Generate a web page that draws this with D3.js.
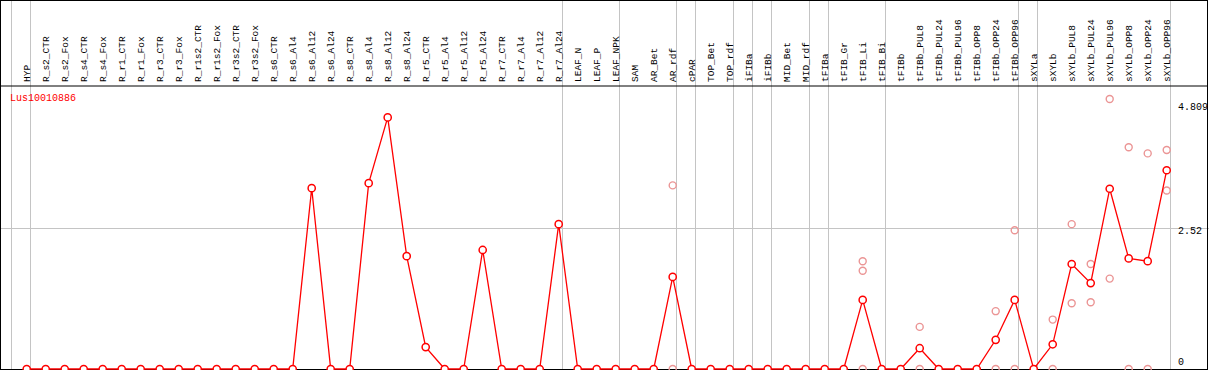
<!DOCTYPE html>
<html>
<head>
<meta charset="utf-8">
<script src="https://cdn.jsdelivr.net/npm/d3@7"></script>
<style>
  body { margin: 0; background: #fff; }
  text { font-family: "Liberation Mono", "DejaVu Sans Mono", monospace; font-size: 9.5px; }
</style>
</head>
<body>
<div id="chart"></div>
<script>
const W = 1209, H = 370;

const geneName = "Lus10010886";

const samples = [
  "HYP", "R_s2_CTR", "R_s2_Fox", "R_s4_CTR", "R_s4_Fox", "R_r1_CTR", "R_r1_Fox", "R_r3_CTR", "R_r3_Fox",
  "R_r1s2_CTR", "R_r1s2_Fox", "R_r3s2_CTR", "R_r3s2_Fox", "R_s6_CTR", "R_s6_Al4", "R_s6_Al12", "R_s6_Al24",
  "R_s8_CTR", "R_s8_Al4", "R_s8_Al12", "R_s8_Al24", "R_r5_CTR", "R_r5_Al4", "R_r5_Al12", "R_r5_Al24",
  "R_r7_CTR", "R_r7_Al4", "R_r7_Al12", "R_r7_Al24", "LEAF_N", "LEAF_P", "LEAF_NPK", "SAM", "AR_Bet", "AR_rdf",
  "cPAR", "TOP_Bet", "TOP_rdf", "iFIBa", "iFIBb", "MID_Bet", "MID_rdf", "tFIBa", "tFIB_Gr", "tFIB_Li", "tFIB_Bi",
  "tFIBb", "tFIBb_PUL8", "tFIBb_PUL24", "tFIBb_PUL96", "tFIBb_OPP8", "tFIBb_OPP24", "tFIBb_OPP96",
  "sXYLa", "sXYLb", "sXYLb_PUL8", "sXYLb_PUL24", "sXYLb_PUL96", "sXYLb_OPP8", "sXYLb_OPP24", "sXYLb_OPP96"
];

// mean expression per sample
const means = [
  0, 0, 0, 0, 0, 0, 0, 0, 0,
  0, 0, 0, 0, 0, 0, 3.22, 0,
  0, 3.31, 4.48, 2.01, 0.39, 0, 0, 2.12,
  0, 0, 0, 2.58, 0, 0, 0, 0, 0, 1.64,
  0, 0, 0, 0, 0, 0, 0, 0, 0, 1.23, 0,
  0, 0.37, 0, 0, 0, 0.52, 1.23,
  0, 0.44, 1.87, 1.53, 3.21, 1.97, 1.92, 3.54
];

// individual replicates (only where they show)
const replicates = [
  ["AR_rdf", [3.27, 0]],
  ["tFIB_Li", [1.92, 1.75, 0]],
  ["tFIBb_PUL8", [0.75, 0]],
  ["tFIBb_OPP24", [1.03, 0]],
  ["tFIBb_OPP96", [2.47, 0]],
  ["sXYLb", [0.88, 0]],
  ["sXYLb_PUL8", [2.58, 1.17]],
  ["sXYLb_PUL24", [1.87, 1.19]],
  ["sXYLb_PUL96", [4.809, 1.61]],
  ["sXYLb_OPP8", [3.95, 0]],
  ["sXYLb_OPP24", [3.84, 0]],
  ["sXYLb_OPP96", [3.90, 3.18]]
];

// first sample of each group (vertical separators)
const groupStarts = ["HYP", "R_s2_CTR", "LEAF_N", "SAM", "cPAR", "TOP_Bet", "iFIBa", "iFIBb", "MID_Bet",
  "tFIBa", "tFIB_Gr", "tFIBb", "sXYLa", "sXYLb"];

const maxValue = 4.809;
const yTicks = [4.809, 2.52, 0];

const labelBottom = 86;
const plotBottom = 369;

const x = d3.scaleBand()
  .domain(samples)
  .range([10.8, 10.8 + 19 * samples.length]);
const px = s => x(s) + 15.9;

const y = d3.scaleLinear()
  .domain([0, 5.04])
  .range([plotBottom, labelBottom]);

const svg = d3.select("#chart").append("svg")
  .attr("width", W)
  .attr("height", H);

const grid = "#c4c4c4";

// group separators
const seps = groupStarts.map(s => x(s)).concat([x.range()[1]]);
svg.selectAll(".sep")
  .data(seps)
  .enter().append("line")
  .attr("x1", d => Math.round(d) + 0.5)
  .attr("x2", d => Math.round(d) + 0.5)
  .attr("y1", 0)
  .attr("y2", H)
  .attr("stroke", grid);

// mid gridline
svg.append("line")
  .attr("x1", 0).attr("x2", W)
  .attr("y1", Math.round(y(2.52)) + 0.5)
  .attr("y2", Math.round(y(2.52)) + 0.5)
  .attr("stroke", grid);

// frame
svg.append("rect")
  .attr("x", 0.5).attr("y", 0.5)
  .attr("width", 1207).attr("height", labelBottom - 0.5)
  .attr("fill", "none").attr("stroke", "#000");
svg.append("line")
  .attr("x1", 0.5).attr("x2", 0.5).attr("y1", 0).attr("y2", plotBottom)
  .attr("stroke", "#000");
svg.append("line")
  .attr("x1", 1207.5).attr("x2", 1207.5).attr("y1", 0).attr("y2", plotBottom)
  .attr("stroke", "#000");
svg.append("line")
  .attr("x1", 0).attr("x2", 1208).attr("y1", plotBottom + 0.5).attr("y2", plotBottom + 0.5)
  .attr("stroke", "#000");

// sample labels
svg.selectAll(".lab")
  .data(samples)
  .enter().append("text")
  .attr("transform", d => `translate(${px(d) + 3.5},82) rotate(-90)`)
  .attr("fill", "#000")
  .text(d => d);

// gene name
svg.append("text")
  .attr("x", 10).attr("y", 101)
  .attr("fill", "#ff0000")
  .style("font-size", "10px")
  .text(geneName);

// y labels
const yOffset = { "4.809": 11, "2.52": 6, "0": -4 };
svg.selectAll(".ylab")
  .data(yTicks)
  .enter().append("text")
  .attr("x", 1178)
  .attr("y", d => y(d) + yOffset[String(d)])
  .attr("fill", "#000")
  .style("font-size", "10px")
  .text(d => String(d));

// replicate points
const repPoints = [];
replicates.forEach(([s, vals]) => vals.forEach(v => repPoints.push({ s, v })));
svg.selectAll(".rep")
  .data(repPoints)
  .enter().append("circle")
  .attr("cx", d => px(d.s))
  .attr("cy", d => y(d.v))
  .attr("r", 3.5)
  .attr("fill", "none")
  .attr("stroke", "#eb9595")
  .attr("stroke-width", 1.4);

// mean line
const meanData = samples.map((s, i) => ({ s, v: means[i] }));
svg.append("path")
  .datum(meanData)
  .attr("fill", "none")
  .attr("stroke", "#ff0000")
  .attr("stroke-width", 1.3)
  .attr("d", d3.line().x(d => px(d.s)).y(d => y(d.v)));

svg.selectAll(".mean")
  .data(meanData)
  .enter().append("circle")
  .attr("cx", d => px(d.s))
  .attr("cy", d => y(d.v))
  .attr("r", 3.6)
  .attr("fill", "#fff")
  .attr("stroke", "#ff0000")
  .attr("stroke-width", 1.5);
</script>
</body>
</html>
